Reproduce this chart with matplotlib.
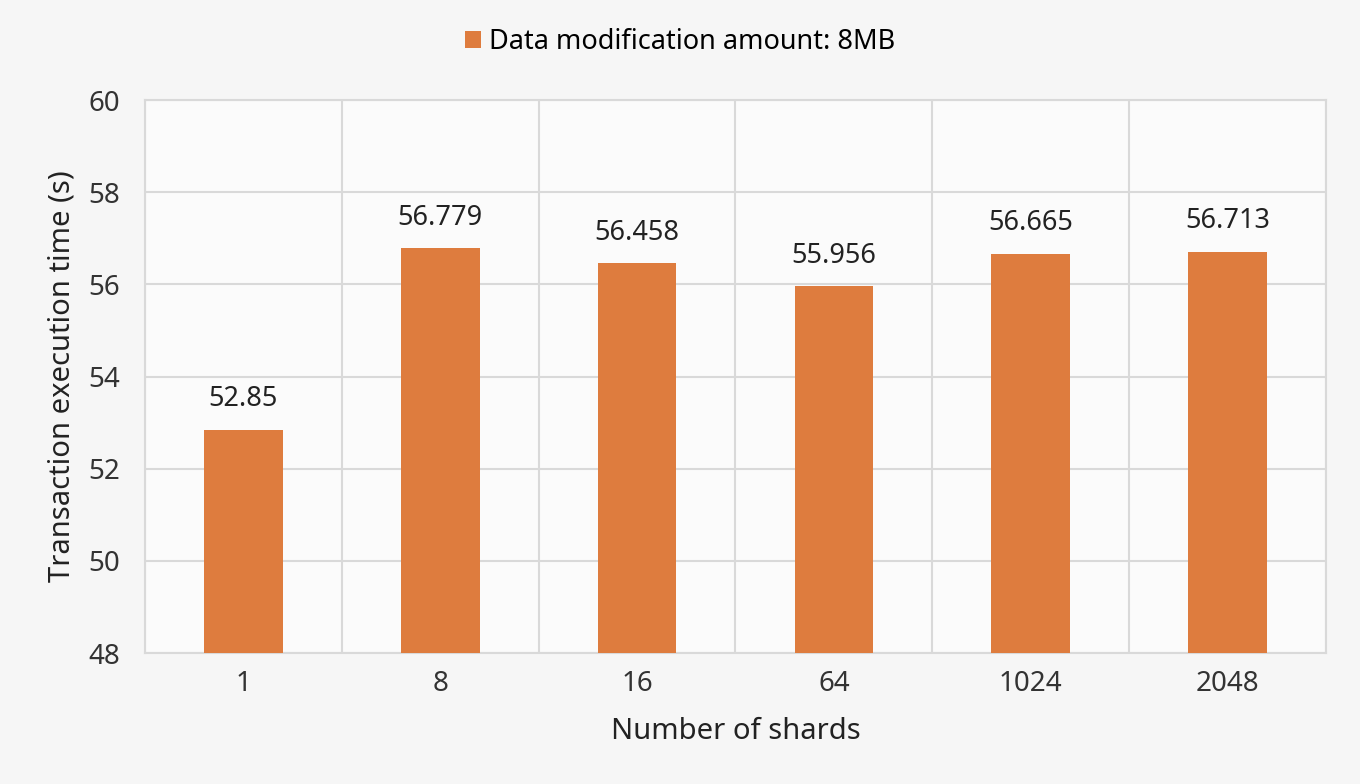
import matplotlib.pyplot as plt
import numpy as np

plt.rcParams['font.family'] = ['Noto Sans', 'DejaVu Sans']

shards = ['1', '8', '16', '64', '1024', '2048']
exec_time = [52.85, 56.779, 56.458, 55.956, 56.665, 56.713]
value_labels = ['52.85', '56.779', '56.458', '55.956', '56.665', '56.713']
yticks = [48, 50, 52, 54, 56, 58, 60]

bar_color = '#DE7C3E'
grid_color = '#d9d9d9'
bg = '#f6f6f6'

fig = plt.figure(figsize=(13.6, 7.84), dpi=100, facecolor=bg)
ax = fig.add_axes([0.1066, 0.167, 0.8684, 0.7054])
ax.set_facecolor('#fbfbfb')

x = np.arange(len(shards))
bars = ax.bar(x, exec_time, width=0.4, color=bar_color, zorder=3,
              label='Data modification amount: 8MB')

for b, lab in zip(bars, value_labels):
    ax.annotate(lab, (b.get_x() + b.get_width() / 2, b.get_height()),
                xytext=(0, 12), textcoords='offset points',
                ha='center', va='bottom', fontsize=19.5, color='#222222')

ax.set_ylim(48, 60)
ax.set_xlim(-0.5, len(shards) - 0.5)
ax.set_yticks(yticks)
ax.set_xticks(x)
ax.set_xticklabels(shards)
ax.tick_params(axis='both', length=0, labelsize=20, colors='#333333')
ax.tick_params(axis='y', pad=18)
ax.tick_params(axis='x', pad=12)

# grid: horizontal at ticks, vertical at category boundaries
for yv in yticks:
    ax.axhline(yv, color=grid_color, lw=1.5, zorder=1)
for xv in np.arange(-0.5, len(shards), 1.0):
    ax.axvline(xv, color=grid_color, lw=1.5, zorder=1)
for s in ax.spines.values():
    s.set_color(grid_color)
    s.set_linewidth(1.5)

ax.set_xlabel('Number of shards', fontsize=21, color='#222222', labelpad=14)
ax.set_ylabel('Transaction execution time (s)', fontsize=21, color='#222222', labelpad=8)

leg = fig.legend(loc='upper center', bbox_to_anchor=(0.5, 0.995), frameon=False,
                 fontsize=19.5, handlelength=0.6, handleheight=0.6, handletextpad=0.3)

fig.savefig('out.png', dpi=100, facecolor=bg)
